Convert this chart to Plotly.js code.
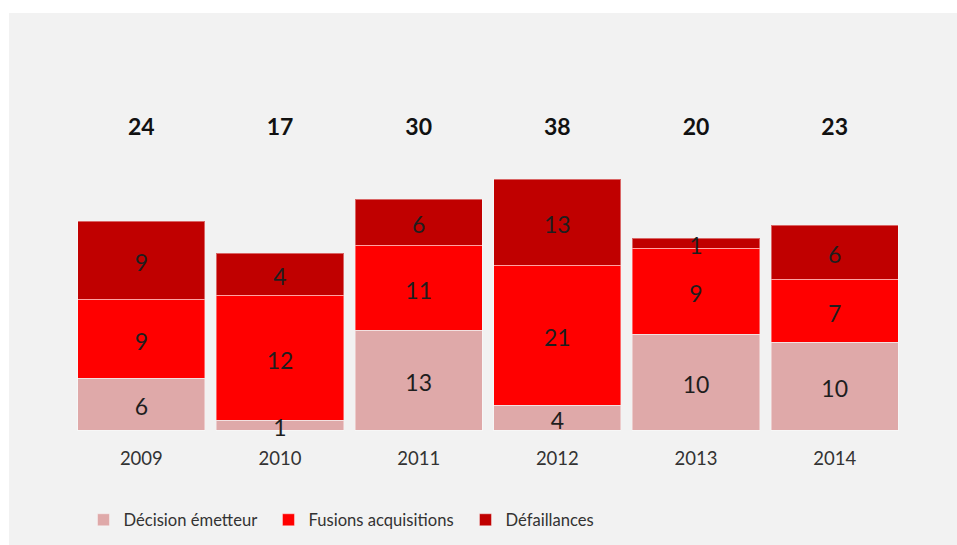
<!DOCTYPE html>
<html>
<head>
<meta charset="utf-8">
<script src="https://cdn.plot.ly/plotly-3.0.1.min.js"></script>
<style>html,body{margin:0;padding:0;background:#fff;}#chart{width:957px;height:545px;}</style>
</head>
<body>
<div id="chart"></div>
<script>
// Years
const annees = ['2009', '2010', '2011', '2012', '2013', '2014'];
// Counts shown as labels
const decisionEmetteur = [6, 1, 13, 4, 10, 10];
const fusionsAcquisitions = [9, 12, 11, 21, 9, 7];
const defaillances = [9, 4, 6, 13, 1, 6];
// Drawn segment heights (chart units)
const hauteurDecision = [52, 10, 100, 25, 96, 88];
const hauteurFusions = [79, 125, 85, 140, 86, 63];
const hauteurDefaillances = [78, 42, 46, 86, 10, 54];
// Series names and colours
const nomsSeries = ['Décision émetteur', 'Fusions acquisitions', 'Défaillances'];
const couleurs = ['#DFA9A9', '#FF0000', '#C00000'];

const totaux = annees.map((_, i) => decisionEmetteur[i] + fusionsAcquisitions[i] + defaillances[i]);

const FONT = 'Lato, "Open Sans", sans-serif';
const hauteurs = [hauteurDecision, hauteurFusions, hauteurDefaillances];
const comptes = [decisionEmetteur, fusionsAcquisitions, defaillances];
const largeursLegende = [140, 152, 100];
const decalageTexte = 5.5;   // label baseline offset (style)
const niveauTotaux = 300.5;  // level of the total labels (style)

const traces = nomsSeries.map((nom, k) => ({
  type: 'bar',
  name: nom,
  x: annees,
  y: hauteurs[k],
  legendwidth: largeursLegende[k],
  marker: {color: couleurs[k], line: {color: 'rgba(255,255,255,0.4)', width: 1}},
  hoverinfo: 'skip'
}));

// Segment labels drawn on top of all bars (centre of each stacked segment)
hauteurs.forEach((h, k) => {
  const centres = annees.map((_, i) => {
    let base = 0;
    for (let j = 0; j < k; j++) base += hauteurs[j][i];
    return base + h[i] / 2 - decalageTexte;
  });
  traces.push({
    type: 'scatter', mode: 'text', x: annees, y: centres,
    text: comptes[k].map(String), textposition: 'middle center',
    textfont: {family: FONT, size: 23, color: '#1E1E1E'},
    cliponaxis: false, showlegend: false, hoverinfo: 'skip'
  });
});

// Totals above the bars
traces.push({
  type: 'scatter', mode: 'text', x: annees, y: annees.map(() => niveauTotaux),
  text: totaux.map(String), textposition: 'middle center',
  textfont: {family: FONT, size: 23, color: '#111111', weight: 'bold'},
  cliponaxis: false, showlegend: false, hoverinfo: 'skip'
});

const layout = {
  width: 957, height: 545,
  margin: {l: 72, r: 53, t: 100, b: 100, pad: 0, autoexpand: false},
  paper_bgcolor: '#FFFFFF',
  plot_bgcolor: 'rgba(0,0,0,0)',
  barmode: 'stack',
  bargap: 0.084,
  showlegend: true,
  legend: {
    orientation: 'h', x: 0.0138, y: -0.2174, xanchor: 'left', yanchor: 'middle',
    font: {family: FONT, size: 16.6, color: '#333333'},
    bgcolor: 'rgba(0,0,0,0)', traceorder: 'normal'
  },
  xaxis: {
    type: 'category', range: [-0.5, 5.5], showgrid: false, zeroline: false,
    showline: false, ticks: '', ticklabelstandoff: 0,
    tickfont: {family: FONT, size: 18.5, color: '#333333'}, fixedrange: true
  },
  yaxis: {
    range: [-15, 330], showgrid: false, zeroline: false, showline: false,
    ticks: '', showticklabels: false, fixedrange: true
  },
  shapes: [{
    type: 'rect', xref: 'paper', yref: 'paper', layer: 'below',
    x0: -0.0757, x1: 1.1, y0: -0.6, y1: 1.2522,
    fillcolor: '#F2F2F2', line: {width: 0}
  }]
};

Plotly.newPlot('chart', traces, layout, {displayModeBar: false, staticPlot: true});
</script>
</body>
</html>
